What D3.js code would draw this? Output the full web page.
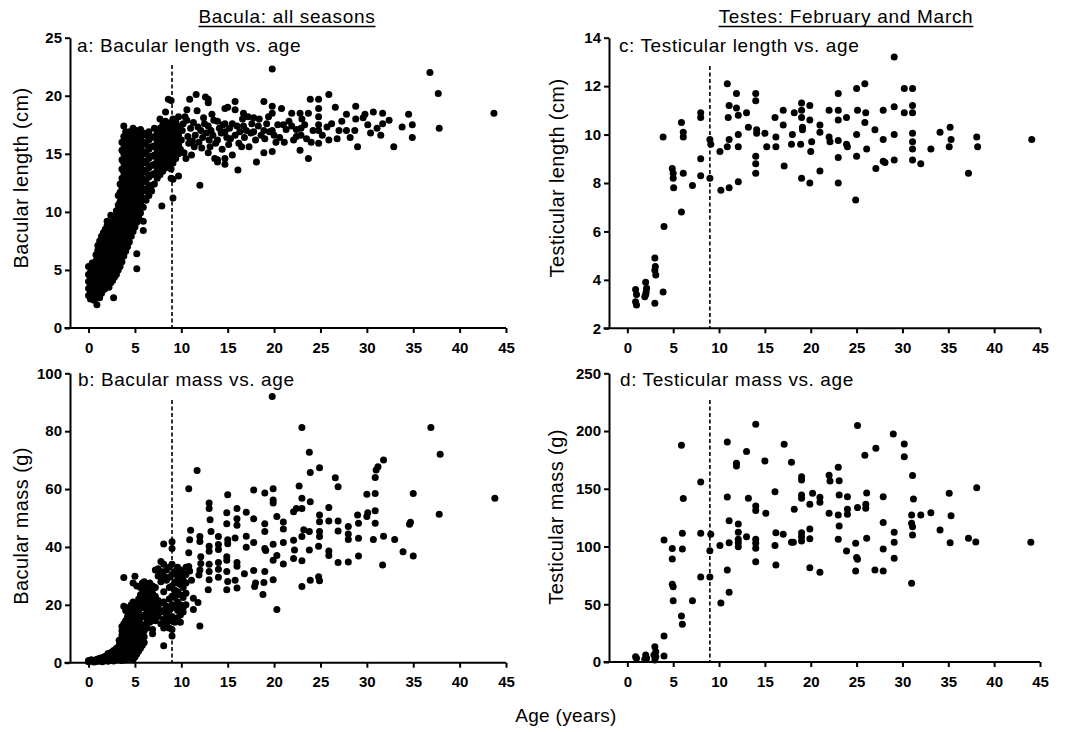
<!DOCTYPE html>
<html>
<head>
<meta charset="utf-8">
<script src="https://cdn.jsdelivr.net/npm/d3@7"></script>
<style>
  body { margin: 0; background: #fff; }
  text { font-family: "Liberation Sans", Arial, Helvetica, sans-serif; }
</style>
</head>
<body>
<svg id="chart" width="1073" height="732"></svg>
<script>
// ---- data ----
const ageTicks = [0, 5, 10, 15, 20, 25, 30, 35, 40, 45];
const maturityAge = 9;

// a: bacular length (cm) -- young animals, grouped by age
const lengthYoung = [
  [0.0, [2.8, 3.4, 4.0, 4.6, 5.3]],
  [0.2, [2.5, 3.0, 3.6, 4.2, 4.8]],
  [0.4, [2.6, 3.2, 3.8, 4.4, 5.0, 5.6]],
  [0.6, [2.4, 2.9, 3.5, 4.1, 4.7, 5.3]],
  [0.8, [2.7, 3.3, 3.9, 4.5, 5.1, 5.8, 6.3]],
  [0.9, [2.0]],
  [1.0, [2.9, 3.5, 4.1, 4.8, 5.4, 6.0, 6.7, 7.1]],
  [1.2, [2.6, 3.2, 3.8, 4.4, 5.0, 5.7, 6.4, 7.5]],
  [1.4, [3.0, 3.6, 4.2, 4.9, 5.5, 6.2, 6.9, 7.9]],
  [1.6, [3.3, 3.9, 4.5, 5.2, 5.9, 6.5, 7.3, 8.2]],
  [1.8, [3.4, 4.1, 4.8, 5.4, 6.1, 6.8, 7.6, 8.5]],
  [2.0, [3.6, 4.3, 5.0, 5.7, 6.4, 7.1, 7.9, 8.8, 9.2]],
  [2.2, [3.5, 4.2, 4.9, 5.6, 6.3, 7.0, 7.7, 8.4, 9.1]],
  [2.4, [3.9, 4.6, 5.3, 6.0, 6.7, 7.4, 8.1, 8.9, 9.7]],
  [2.6, [4.1, 4.8, 5.5, 6.2, 6.9, 7.7, 8.5, 9.3]],
  [2.7, [2.6]],
  [2.8, [4.4, 5.1, 5.8, 6.5, 7.3, 8.1, 8.9, 9.6]],
  [3.0, [4.6, 5.4, 6.2, 7.0, 7.8, 8.6, 9.4, 10.1]],
  [3.2, [5.0, 5.8, 6.6, 7.4, 8.2, 9.0, 9.8, 10.6, 11.4]],
  [3.4, [5.3, 6.1, 6.9, 7.7, 8.5, 9.3, 10.1, 10.9, 11.7, 12.4]],
  [3.6, [5.7, 6.5, 7.3, 8.1, 8.9, 9.7, 10.5, 11.3, 12.1, 12.9, 13.7, 14.5, 15.3, 16.0]],
  [3.8, [6.2, 7.0, 7.8, 8.6, 9.4, 10.2, 11.0, 11.8, 12.6, 13.4, 14.2, 15.0, 15.8, 16.5, 17.4]],
  [4.0, [6.6, 7.4, 8.2, 9.0, 9.8, 10.6, 11.4, 12.2, 13.0, 13.8, 14.6, 15.4, 16.2, 16.9]],
  [4.2, [7.0, 7.8, 8.6, 9.4, 10.2, 11.0, 11.8, 12.6, 13.4, 14.2, 15.0, 15.8, 16.6]],
  [4.4, [7.4, 8.2, 9.0, 9.8, 10.6, 11.4, 12.2, 13.0, 13.8, 14.6, 15.4, 16.2, 16.9]],
  [4.6, [7.9, 8.7, 9.5, 10.3, 11.1, 11.9, 12.7, 13.5, 14.3, 15.1, 15.9, 16.7]],
  [4.8, [8.3, 9.1, 9.9, 10.7, 11.5, 12.3, 13.1, 13.9, 14.7, 15.5, 16.3, 17.2]],
  [5.0, [8.7, 9.5, 10.3, 11.1, 11.9, 12.7, 13.5, 14.3, 15.1, 15.9, 16.7]],
  [5.2, [5.1, 6.4, 9.1, 9.9, 10.7, 11.5, 12.3, 13.1, 13.9, 14.7, 15.5, 16.3, 17.0]],
  [5.4, [9.5, 10.3, 11.1, 11.9, 12.7, 13.5, 14.3, 15.1, 15.9, 16.6]],
  [5.6, [9.9, 10.7, 11.5, 12.3, 13.1, 13.9, 14.7, 15.5, 16.3, 17.1]],
  [5.9, [8.4, 9.2, 10.4, 11.2, 12.0, 12.8, 13.6, 14.4, 15.2, 16.0, 16.8]],
  [6.2, [11.0, 11.8, 12.6, 13.4, 14.2, 15.0, 15.8, 16.6]],
  [6.5, [11.4, 12.2, 13.0, 13.8, 14.6, 15.4, 16.2, 16.9]],
  [6.8, [11.8, 12.3, 13.2, 14.0, 14.8, 15.6, 16.4]],
  [7.1, [12.4, 13.3, 14.1, 14.9, 15.7, 16.5, 17.2]],
  [7.4, [12.9, 13.7, 14.5, 15.3, 16.1, 16.9]],
  [7.7, [13.2, 14.0, 14.8, 15.6, 16.4, 17.2, 18.0]],
  [7.9, [10.5]],
  [8.0, [13.5, 14.3, 15.1, 15.9, 16.7, 17.5]],
  [8.3, [13.8, 14.6, 15.4, 16.2, 17.0, 17.8, 18.6]],
  [8.6, [14.1, 14.9, 15.7, 16.5, 17.3, 19.7]],
  [8.9, [12.9, 13.7, 14.5, 15.3, 16.1, 16.9, 17.7, 19.6]],
  [9.1, [11.2, 12.8, 14.2, 15.0, 15.8, 16.6, 17.4, 18.0]],
  [9.4, [14.6, 15.4, 16.2, 17.0, 17.8]],
  [9.7, [13.1, 15.0, 15.8, 16.6, 17.4, 18.2]]
];

// a: bacular length (cm) -- older animals, [age, length]
const lengthOld = [
  [9.9,15.4],[10.0,16.2],[10.1,17.0],[10.2,17.6],[10.4,18.2],[10.6,18.8],[10.6,17.9],[10.7,16.5],
  [10.8,15.9],[10.9,19.7],[11.0,17.2],[11.2,16.1],[11.3,17.7],[11.5,16.6],[11.6,20.1],[11.7,18.7],
  [11.8,17.3],[11.9,16.0],[12.0,12.3],[12.1,17.0],[12.3,16.4],[12.5,17.6],[12.6,19.9],[12.7,16.8],
  [12.9,19.7],[12.9,19.4],[12.9,17.4],[12.9,15.1],[13.0,16.2],[13.2,17.0],[13.4,16.6],[13.5,17.9],
  [13.6,14.6],[13.9,17.8],[13.9,16.2],[13.9,14.5],[13.9,14.3],[14.1,17.2],[14.3,16.8],[14.5,17.5],
  [14.7,18.9],[14.7,17.6],[14.7,16.9],[14.7,14.6],[14.7,14.1],[14.9,16.4],[15.0,19.0],[15.2,17.2],
  [15.5,17.6],[15.5,14.9],[15.8,19.5],[15.8,18.8],[15.8,16.6],[16.0,17.4],[16.1,13.6],[16.3,16.9],
  [16.5,15.6],[16.7,18.5],[16.7,17.4],[16.8,16.4],[17.0,17.0],[17.2,18.2],[17.5,16.8],[17.8,18.1],
  [17.8,16.9],[18.1,14.3],[18.3,17.4],[18.6,16.6],[18.9,19.5],[18.9,17.0],[18.9,15.1],[19.2,17.6],
  [19.5,16.9],[19.8,22.3],[19.8,19.1],[19.8,18.5],[19.8,17.0],[19.8,15.2],[20.2,16.0],[20.4,17.5],
  [20.8,18.9],[21.0,17.5],[21.3,17.1],[21.9,18.5],[21.9,17.4],[22.1,16.2],[22.4,17.1],[22.8,18.5],
  [22.8,15.3],[22.9,17.2],[22.9,16.6],[23.3,17.5],[23.7,18.5],[23.7,14.6],[23.9,19.7],[24.2,17.0],
  [24.8,19.7],[24.8,18.9],[24.8,18.2],[24.8,17.5],[24.8,17.0],[24.8,15.9],[25.2,16.6],[25.7,17.3],
  [25.9,20.1],[25.9,16.2],[26.6,19.0],[26.8,16.3],[27.0,17.0],[27.8,18.4],[27.8,17.0],[28.7,17.0],
  [28.8,19.1],[28.8,18.0],[29.0,15.6],[29.6,18.1],[29.8,18.4],[30.7,18.6],[31.1,17.2],[31.5,16.6],
  [31.7,18.5],[31.7,17.6],[32.9,15.6],[33.8,17.3],[34.5,18.4],[34.9,17.5],[34.9,16.4],[36.8,22.0],
  [37.7,20.2],[37.8,17.2],[43.7,18.5],
  [10.3,15.1],[10.5,14.6],[11.1,14.9],[11.4,15.6],[12.2,15.5],[12.4,18.1],[13.1,15.6],[13.3,18.4],
  [13.7,15.9],[14.4,15.4],[15.1,15.8],[15.3,16.3],[16.2,15.9],[16.6,18.0],[17.3,15.6],[17.6,17.6],
  [18.0,16.2],[18.4,18.0],[19.0,16.3],[19.4,18.2],[20.0,16.6],[20.6,16.4],[21.1,16.0],[21.6,17.8],
  [22.4,16.5],[23.0,18.0],[23.5,16.3],[24.0,16.0],[26.2,17.6],[27.3,17.8],[28.2,16.4],[30.1,17.5],
  [30.4,16.8],[32.4,17.9]
];

// b: bacular mass (g) -- young animals, grouped by age
const massYoung = [
  [0.0, [0.3, 0.8]], [0.3, [0.5, 1.0]], [0.6, [0.2, 0.7]], [0.9, [0.4, 1.2]],
  [1.2, [0.6, 1.5]], [1.5, [0.3, 1.0, 1.8]], [1.8, [0.8, 1.4, 2.2]],
  [2.1, [0.5, 1.2, 2.0, 3.2]], [2.4, [0.9, 1.7, 2.6, 3.5]], [2.7, [0.6, 1.4, 2.4, 3.3, 4.2]],
  [3.0, [1.0, 2.0, 3.0, 4.0, 5.0]], [3.3, [1.5, 2.6, 3.7, 4.8, 6.0, 7.8]],
  [3.6, [0.8, 2.0, 3.2, 4.4, 5.6, 6.8, 8.0, 9.5, 11.0, 12.5]],
  [3.8, [1.5, 3.0, 4.5, 6.0, 7.5, 9.0, 10.5, 12.0, 13.5, 19.5, 29.4]],
  [4.0, [1.0, 2.5, 4.0, 5.5, 7.0, 8.5, 10.0, 11.5, 13.0, 14.5, 18.0]],
  [4.2, [2.0, 3.5, 5.0, 6.5, 8.0, 9.5, 11.0, 12.5, 14.0, 16.0, 19.0]],
  [4.4, [1.5, 3.0, 4.5, 6.0, 7.5, 9.0, 10.5, 12.0, 13.5, 15.0, 17.0]],
  [4.6, [2.5, 4.0, 5.5, 7.0, 8.5, 10.0, 11.5, 13.0, 14.5, 16.5, 20.0]],
  [4.8, [1.0, 3.0, 4.5, 6.0, 7.5, 9.0, 10.5, 12.0, 13.5, 15.0, 18.5, 21.0, 27.5]],
  [5.0, [2.0, 3.5, 5.0, 6.5, 8.0, 9.5, 11.0, 12.5, 14.0, 16.0, 19.0, 29.9]],
  [5.2, [3.0, 4.5, 6.0, 7.5, 9.0, 10.5, 12.0, 14.0, 17.0, 20.5, 26.5]],
  [5.4, [4.0, 5.5, 7.0, 8.5, 10.0, 12.0, 14.5, 18.0, 22.0]],
  [5.6, [5.0, 6.5, 8.0, 9.5, 11.5, 13.5, 15.5, 19.5, 23.5, 26.0]],
  [5.8, [6.0, 7.5, 9.5, 11.5, 13.0, 16.0, 20.0, 24.0, 27.5]],
  [6.0, [7.0, 9.0, 11.0, 13.0, 16.5, 19.0, 22.0, 25.0, 28.0]],
  [6.3, [12.0, 15.0, 18.0, 21.0, 24.0, 26.5]],
  [6.6, [14.0, 17.0, 20.0, 22.5, 25.0, 27.5]],
  [6.9, [10.0, 11.5, 15.5, 18.5, 21.0, 24.0, 26.5]],
  [7.2, [14.5, 17.5, 20.0, 23.0, 26.0, 32.0]],
  [7.5, [16.0, 19.0, 21.5, 30.0, 32.5]],
  [7.8, [13.5, 17.5, 20.5, 28.0, 31.5, 35.0]],
  [8.1, [5.9, 12.0, 15.0, 18.0, 21.0, 24.5, 30.0, 34.0, 41.0]],
  [8.4, [13.0, 16.5, 19.5, 28.5, 32.0]],
  [8.7, [12.0, 14.5, 18.0, 22.0, 26.0, 29.5, 33.0]],
  [9.0, [9.2, 11.5, 16.0, 20.0, 23.0, 26.5, 30.5, 34.0, 39.5, 41.8]],
  [9.3, [14.0, 19.0, 22.5, 25.0, 28.0, 31.5]],
  [9.6, [15.5, 18.0, 21.0, 24.5, 27.5, 30.0, 33.0]],
  [9.9, [14.0, 16.5, 20.0, 23.5, 27.0, 29.0, 32.0]],
  [10.2, [17.5, 19.0, 22.5, 26.0, 28.5, 31.0]],
  [10.5, [20.0, 24.0, 27.5, 30.5, 33.0]]
];

// b: bacular mass (g) -- older animals, [age, mass]
const massOld = [
  [10.8,60.1],[10.8,38.0],[10.8,33.2],[10.9,31.7],[10.9,42.5],[11.0,45.8],[11.1,28.5],[11.3,22.3],
  [11.8,20.8],[11.3,18.4],[11.7,66.4],[11.9,30.3],[12.0,43.6],[12.0,41.9],[12.1,36.6],[12.1,34.3],
  [12.0,32.0],[12.0,12.7],[13.0,55.2],[13.0,53.3],[13.1,49.4],[13.2,45.3],[13.0,40.2],[13.0,38.5],
  [13.0,34.0],[13.0,31.5],[13.0,28.7],[12.9,25.2],[14.0,43.6],[14.0,40.8],[14.0,39.1],[14.0,34.6],
  [14.0,32.3],[14.0,29.5],[15.0,58.0],[14.9,51.8],[14.9,48.0],[15.0,42.5],[15.0,41.1],[14.9,36.6],
  [14.9,35.4],[14.9,31.5],[15.0,28.1],[14.9,25.2],[16.0,53.3],[16.0,49.7],[16.0,47.5],[16.0,34.6],
  [16.0,33.3],[16.0,25.8],[15.8,43.1],[15.8,28.5],[17.0,52.0],[17.0,43.7],[17.0,39.9],[16.8,30.7],
  [17.8,59.7],[17.8,49.7],[17.8,41.5],[17.8,31.9],[17.9,26.3],[18.0,27.5],[19.0,58.6],[19.0,48.0],
  [19.0,45.3],[19.0,39.5],[19.1,38.8],[19.0,31.5],[18.9,27.7],[18.8,23.6],[19.8,92.0],[19.9,60.1],
  [19.9,56.2],[19.9,55.2],[19.9,40.9],[19.9,35.4],[19.9,28.7],[20.3,50.5],[20.3,37.0],[20.3,18.4],
  [21.0,48.6],[21.0,46.2],[21.0,41.5],[21.0,34.1],[22.1,52.2],[22.1,42.3],[22.2,38.9],[22.1,36.0],
  [22.4,53.3],[22.7,61.1],[23.0,81.3],[23.0,56.8],[23.0,53.3],[23.0,43.6],[23.0,35.2],[23.0,26.3],
  [23.2,45.9],[23.8,72.7],[23.9,65.7],[23.9,55.6],[23.8,45.3],[23.8,38.9],[23.9,28.5],[24.9,67.4],
  [24.9,51.0],[24.9,48.7],[24.9,45.3],[24.9,43.6],[24.8,40.2],[24.8,29.7],[24.9,28.3],[25.9,53.6],
  [25.9,49.0],[25.9,38.6],[25.9,37.0],[26.6,63.9],[26.9,60.8],[26.9,49.0],[26.9,45.5],[26.9,34.6],
  [28.0,47.1],[28.0,44.5],[28.0,42.6],[28.0,34.8],[29.0,51.0],[29.1,48.2],[29.1,43.0],[29.1,36.9],
  [30.0,58.2],[30.0,50.5],[30.1,51.8],[30.9,64.0],[30.9,58.5],[30.9,52.5],[30.9,48.2],[30.7,42.6],
  [31.0,66.6],[31.2,67.7],[31.8,70.0],[31.8,43.7],[31.7,33.8],[33.0,42.6],[33.9,38.3],[34.6,47.8],
  [34.7,48.5],[35.0,58.5],[35.0,36.9],[36.9,81.3],[37.9,72.0],[37.8,51.3],[43.8,56.8]
];

// c: testicular length (cm), [age, length]
const testisLength = [
  [0.9,3.6],[1.0,3.4],[0.9,3.1],[1.0,2.96],[2.0,3.9],[2.1,3.65],[2.0,3.4],[1.9,3.3],[2.05,3.5],
  [3.0,4.9],[3.05,4.55],[3.0,4.4],[3.1,4.2],[3.0,3.03],[3.9,3.5],[4.0,6.2],[3.9,9.9],
  [4.9,8.6],[5.0,8.4],[5.0,8.2],[5.05,7.8],[5.9,10.5],[6.1,10.1],[6.1,9.9],[6.1,8.4],[5.9,6.8],
  [7.1,7.9],[8.0,10.9],[8.0,10.7],[8.0,9.0],[8.0,8.3],[9.0,9.8],[9.1,9.6],[9.0,8.2],
  [10.1,9.3],[10.2,7.7],[10.9,12.1],[11.1,11.2],[11.0,10.7],[11.1,9.8],[10.9,9.5],[11.1,7.8],
  [11.9,11.7],[11.9,11.1],[12.1,10.8],[12.1,10.0],[12.1,9.5],[12.1,8.05],[13.0,10.9],[13.2,10.3],
  [14.0,11.7],[14.0,11.4],[14.1,10.2],[14.1,10.05],[14.0,9.1],[14.0,8.8],[14.0,8.4],[15.0,10.05],
  [15.2,9.5],[16.1,10.7],[16.2,9.9],[16.2,9.5],[17.1,8.7],[17.0,11.0],[17.0,10.4],[18.0,10.0],
  [17.9,9.6],[18.2,10.9],[19.0,11.3],[19.0,11.0],[19.0,10.7],[19.1,10.3],[19.1,10.2],[18.9,9.6],
  [19.0,8.2],[19.9,11.2],[19.9,10.6],[20.0,9.3],[19.9,8.0],[20.1,9.7],[21.0,10.4],[21.0,10.1],
  [21.0,8.5],[22.0,11.0],[22.0,9.9],[22.1,9.7],[23.0,11.7],[23.0,11.0],[23.0,10.6],[23.0,9.75],
  [23.0,9.05],[23.0,8.0],[23.9,10.7],[23.9,9.6],[24.0,9.5],[25.0,11.9],[25.1,11.0],[25.0,10.0],
  [25.0,9.1],[24.9,7.3],[25.9,12.1],[26.0,10.9],[25.9,10.5],[26.1,9.4],[27.0,10.2],[27.1,8.6],
  [27.9,11.0],[27.9,9.8],[27.9,8.9],[28.1,8.85],[29.1,13.2],[29.1,11.15],[29.1,10.0],[29.1,8.95],
  [30.2,11.9],[30.2,10.9],[31.1,11.9],[31.1,11.2],[31.1,10.9],[31.1,10.05],[31.1,9.7],[31.1,9.4],
  [31.1,8.95],[32.0,8.8],[33.1,9.4],[34.1,10.1],[35.2,10.3],[35.3,9.8],[35.1,9.5],[37.2,8.4],
  [38.1,9.9],[38.2,9.5],[44.1,9.8]
];

// d: testicular mass (g), [age, mass]
const testisMass = [
  [0.9,4.6],[1.0,3.2],[2.0,6.1],[2.1,3.2],[1.9,2.3],[3.0,13.3],[3.1,8.9],[2.9,6.1],[3.1,4.6],
  [3.0,1.7],[4.0,5.2],[4.0,22.5],[4.0,105.7],[4.9,98.2],[4.9,89.2],[4.9,67.3],[5.0,65.2],[5.0,53.1],
  [5.9,187.6],[6.1,141.5],[6.0,111.4],[6.0,97.9],[5.9,39.8],[6.0,32.6],[7.1,53.1],[8.0,155.9],
  [8.0,111.4],[8.0,73.6],[9.0,96.4],[9.0,73.6],[9.1,110.6],[10.1,100.8],[10.2,51.1],[10.9,190.5],
  [10.9,142.9],[11.1,122.4],[11.1,103.3],[10.9,79.7],[11.1,60.3],[11.9,172.1],[11.9,169.7],
  [12.1,119.5],[12.1,112.3],[12.1,106.2],[12.1,103.3],[12.1,99.9],[13.0,182.2],[13.2,141.7],
  [13.0,108.5],[14.0,205.8],[14.0,135.1],[14.0,131.1],[14.0,106.2],[14.0,102.8],[14.0,98.4],
  [14.0,86.9],[15.0,174.1],[15.1,128.8],[16.1,147.5],[16.2,112.0],[16.1,100.8],[16.2,84.0],
  [17.0,110.6],[17.1,188.5],[17.9,172.9],[17.9,103.6],[18.1,103.6],[18.2,132.2],[19.0,160.5],
  [19.0,157.6],[19.0,144.6],[19.0,141.7],[19.0,112.0],[19.0,108.5],[19.0,104.8],[19.9,136.5],
  [19.9,115.2],[19.9,106.8],[19.9,81.7],[20.2,146.1],[21.0,142.6],[21.0,138.3],[21.0,77.7],
  [22.0,161.7],[22.1,156.8],[22.0,128.8],[23.0,168.6],[23.1,157.0],[23.1,144.6],[23.1,117.8],
  [23.0,127.3],[23.0,106.2],[24.0,143.2],[24.0,132.2],[24.0,127.9],[23.9,96.1],[25.1,204.7],
  [25.1,133.7],[24.9,102.8],[25.0,90.6],[25.1,88.9],[24.9,78.8],[25.9,179.0],[26.0,136.5],
  [26.0,133.1],[26.1,146.4],[26.1,107.1],[27.1,185.0],[27.0,79.7],[27.9,143.2],[27.9,120.7],
  [27.9,97.9],[27.9,78.8],[29.0,197.5],[29.1,112.3],[29.1,103.6],[29.1,89.8],[30.2,188.8],
  [30.2,177.8],[31.1,161.4],[31.2,141.2],[31.0,127.3],[31.0,120.1],[31.1,117.2],[31.1,110.0],
  [31.0,68.1],[32.0,127.3],[33.1,129.3],[34.1,114.3],[35.1,146.1],[35.3,126.7],[35.2,103.3],
  [37.2,107.1],[38.1,151.0],[38.0,103.9],[44.0,103.6]
];

// ---- drawing ----
const svg = d3.select("#chart");
const FONT = '"Liberation Sans", Arial, Helvetica, sans-serif';

function flatten(groups) {
  const out = [];
  groups.forEach(([age, vals]) => vals.forEach((v) => out.push([age, v])));
  return out;
}

const panels = [
  { data: flatten(lengthYoung).concat(lengthOld), xr: [70, 506], yr: [328, 37.7],
    yd: [0, 25], yt: [0, 5, 10, 15, 20, 25], title: "a: Bacular length vs. age",
    titlePos: [77, 52], ylabel: "Bacular length (cm)", ylabelPos: [21, 178], dashTop: 65 },
  { data: flatten(massYoung).concat(massOld), xr: [70, 506], yr: [662.7, 373.3],
    yd: [0, 100], yt: [0, 20, 40, 60, 80, 100], title: "b: Bacular mass vs. age",
    titlePos: [78, 386], ylabel: "Bacular mass (g)", ylabelPos: [21, 526], dashTop: 400 },
  { data: testisLength, xr: [609, 1040], yr: [328.3, 37.7],
    yd: [2, 14], yt: [2, 4, 6, 8, 10, 12, 14], title: "c: Testicular length vs. age",
    titlePos: [619, 52], ylabel: "Testicular length (cm)", ylabelPos: [557, 178], dashTop: 66 },
  { data: testisMass, xr: [609, 1040], yr: [662, 373.3],
    yd: [0, 250], yt: [0, 50, 100, 150, 200, 250], title: "d: Testicular mass vs. age",
    titlePos: [620, 386], ylabel: "Testicular mass (g)", ylabelPos: [556, 517], dashTop: 400 }
];

function drawPanel(p) {
  const x = d3.scaleLinear().domain([-2, 45]).range(p.xr);
  const y = d3.scaleLinear().domain(p.yd).range(p.yr);
  const g = svg.append("g");
  const y0 = y(p.yd[0]);

  // maturity line
  g.append("line")
    .attr("x1", x(maturityAge)).attr("x2", x(maturityAge))
    .attr("y1", p.dashTop).attr("y2", y0)
    .attr("stroke", "#000").attr("stroke-width", 1.6)
    .attr("stroke-dasharray", "4,2.5");

  // points
  g.append("g").selectAll("circle")
    .data(p.data)
    .join("circle")
    .attr("cx", (d) => x(d[0]))
    .attr("cy", (d) => y(d[1]))
    .attr("r", 3.5)
    .attr("fill", "#000");

  // x axis
  const xa = g.append("g")
    .attr("transform", `translate(0,${y0})`)
    .call(d3.axisBottom(x).tickValues(ageTicks).tickSize(5).tickSizeOuter(0).tickPadding(9));
  xa.select(".domain").remove();
  xa.append("line")
    .attr("x1", x(-2.6)).attr("x2", x(45))
    .attr("stroke", "#000").attr("stroke-width", 2);
  xa.selectAll(".tick line").attr("stroke-width", 2);
  xa.selectAll("text").attr("font-size", 15).attr("font-weight", "bold").attr("font-family", FONT);

  // y axis
  const ya = g.append("g")
    .attr("transform", `translate(${x(-2)},0)`)
    .call(d3.axisLeft(y).tickValues(p.yt).tickSize(5).tickSizeOuter(0).tickPadding(3));
  ya.select(".domain").attr("stroke-width", 2);
  ya.selectAll(".tick line").attr("stroke-width", 2);
  ya.selectAll("text").attr("font-size", 15).attr("font-weight", "bold").attr("font-family", FONT);

  // panel title
  g.append("text")
    .attr("x", p.titlePos[0]).attr("y", p.titlePos[1])
    .attr("font-size", 19).attr("letter-spacing", 0.6)
    .text(p.title);

  // y label
  g.append("text")
    .attr("transform", `translate(${p.ylabelPos[0]},${p.ylabelPos[1]}) rotate(-90)`)
    .attr("text-anchor", "middle").attr("dy", "0.35em")
    .attr("font-size", 20).attr("letter-spacing", 0.4)
    .text(p.ylabel);
}

panels.forEach(drawPanel);

// section headings (underlined)
[["Bacula: all seasons", 287], ["Testes: February and March", 846]].forEach(([label, cx]) => {
  const t = svg.append("text")
    .attr("x", cx).attr("y", 23)
    .attr("text-anchor", "middle")
    .attr("font-size", 19).attr("letter-spacing", 0.7)
    .text(label);
  const w = t.node().getComputedTextLength();
  svg.append("line")
    .attr("x1", cx - w / 2).attr("x2", cx + w / 2)
    .attr("y1", 26.5).attr("y2", 26.5)
    .attr("stroke", "#000").attr("stroke-width", 1.3);
});

// shared x label
svg.append("text")
  .attr("x", 566).attr("y", 722)
  .attr("text-anchor", "middle")
  .attr("font-size", 19).attr("letter-spacing", 0.3)
  .text("Age (years)");
</script>
</body>
</html>
